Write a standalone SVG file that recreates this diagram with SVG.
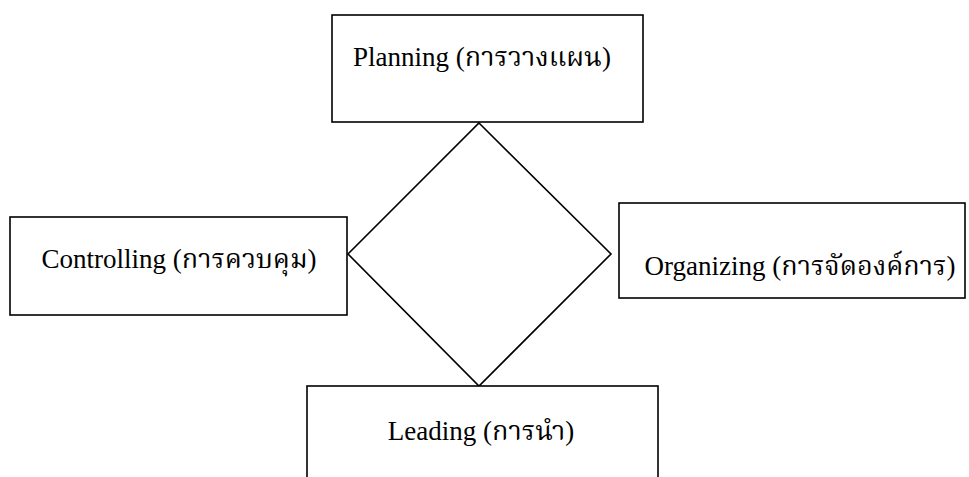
<svg xmlns="http://www.w3.org/2000/svg" width="969" height="477" viewBox="0 0 969 477">
<style>
.box{fill:#fff;stroke:#000;stroke-width:1.6}
.lbl{font-family:'Liberation Serif','Times New Roman','DejaVu Serif',serif;font-size:27px;fill:#000;text-anchor:middle}
.th{font-family:'Noto Serif Thai','Noto Sans Thai','Noto Sans',sans-serif;font-size:27px}
</style>
<rect width="969" height="477" fill="#fff"/>
<g id="connectors">
<polygon points="479,123 611,254 479,386 348,254" fill="none" stroke="#000" stroke-width="1.6"/>
</g>
<g id="planning">
<rect class="box" x="332" y="15" width="311" height="107"/>
<text class="lbl" x="482" y="66">Planning (<tspan class="th">การวางแผน</tspan>)</text>
</g>
<g id="controlling">
<rect class="box" x="10" y="217" width="337" height="98"/>
<text class="lbl" x="179" y="268">Controlling (<tspan class="th">การควบคุม</tspan>)</text>
</g>
<g id="organizing">
<rect class="box" x="619" y="203" width="346" height="95"/>
<text class="lbl" x="800" y="275">Organizing (<tspan class="th">การจัดองค์การ</tspan>)</text>
</g>
<g id="leading">
<rect class="box" x="307" y="386" width="351" height="100"/>
<text class="lbl" x="481" y="440">Leading (<tspan class="th">การนำ</tspan>)</text>
</g>
</svg>
